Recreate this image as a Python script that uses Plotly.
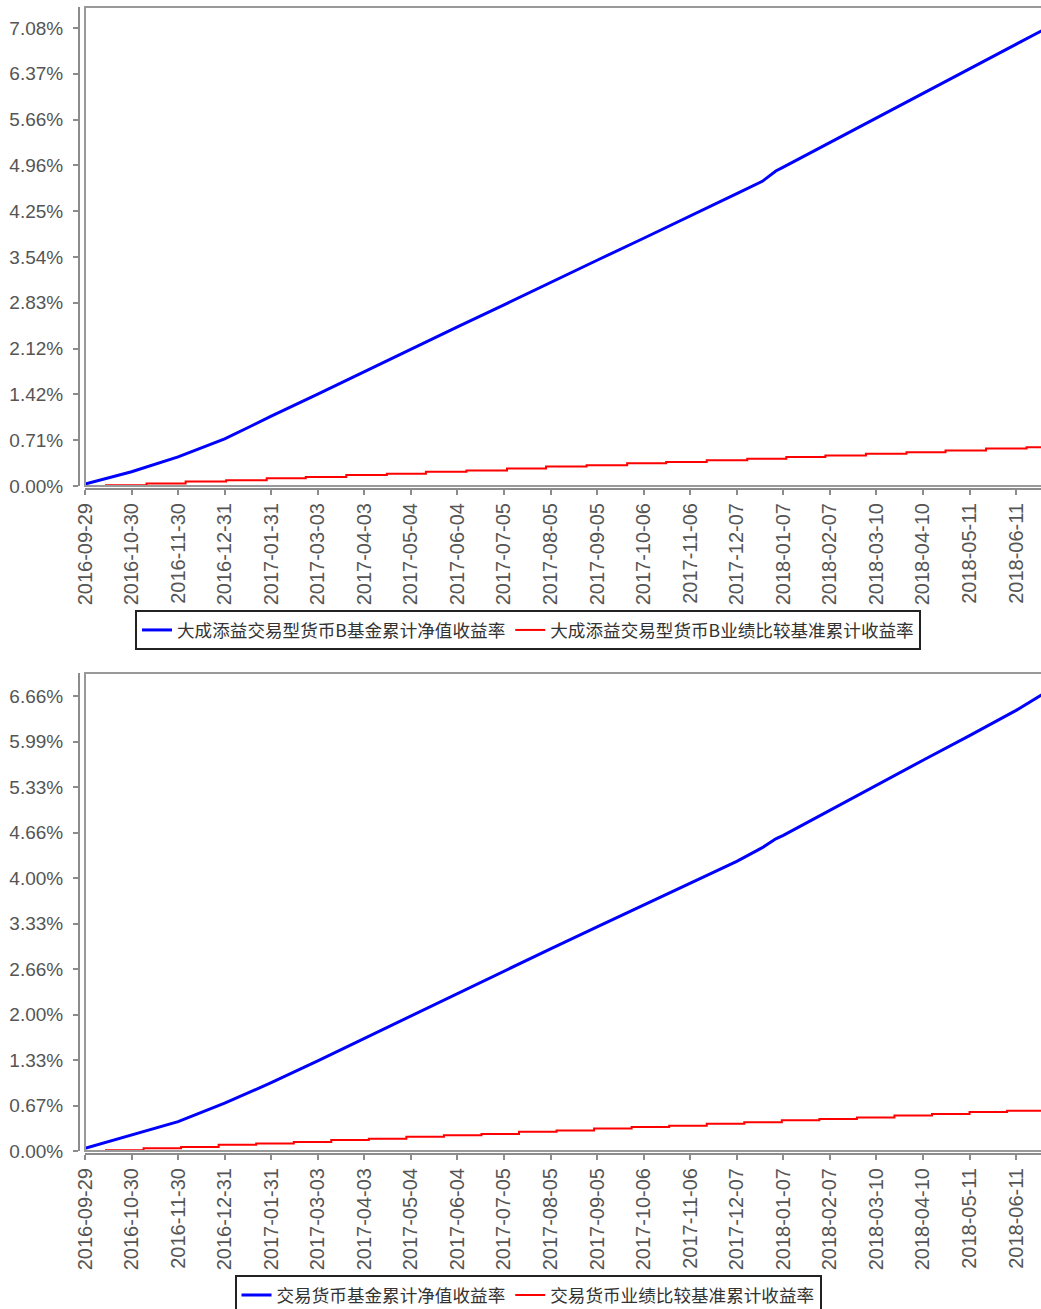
import plotly.graph_objects as go

# ---------------- data ----------------
x_tick_labels = ["2016-09-29", "2016-10-30", "2016-11-30", "2016-12-31", "2017-01-31",
                 "2017-03-03", "2017-04-03", "2017-05-04", "2017-06-04", "2017-07-05",
                 "2017-08-05", "2017-09-05", "2017-10-06", "2017-11-06", "2017-12-07",
                 "2018-01-07", "2018-02-07", "2018-03-10", "2018-04-10", "2018-05-11",
                 "2018-06-11"]

top_ytick_vals = [0, 0.708, 1.416, 2.124, 2.832, 3.54, 4.248, 4.956, 5.664, 6.372, 7.08]
top_ytick_labels = ["0.00%", "0.71%", "1.42%", "2.12%", "2.83%", "3.54%", "4.25%",
                    "4.96%", "5.66%", "6.37%", "7.08%"]
bot_ytick_vals = [0, 0.666, 1.332, 1.998, 2.664, 3.33, 3.996, 4.662, 5.328, 5.994, 6.66]
bot_ytick_labels = ["0.00%", "0.67%", "1.33%", "2.00%", "2.66%", "3.33%", "4.00%",
                    "4.66%", "5.33%", "5.99%", "6.66%"]

blue_dates = ["2016-09-29", "2016-10-30", "2016-11-30", "2016-12-31", "2017-01-17",
              "2017-01-31", "2017-03-03", "2017-04-03", "2017-05-04", "2017-06-04",
              "2017-07-05", "2017-08-05", "2017-09-05", "2017-10-06", "2017-11-06",
              "2017-12-07", "2017-12-24", "2018-01-02", "2018-01-07", "2018-02-07",
              "2018-03-10", "2018-04-10", "2018-05-11", "2018-06-11", "2018-06-29"]
top_blue = [0.03, 0.22, 0.45, 0.73, 0.92, 1.08, 1.42, 1.77, 2.11, 2.46, 2.80, 3.15, 3.49,
            3.83, 4.17, 4.52, 4.71, 4.87, 4.93, 5.31, 5.69, 6.06, 6.44, 6.82, 7.05]
bot_blue = [0.04, 0.23, 0.43, 0.70, 0.86, 1.00, 1.32, 1.65, 1.98, 2.30, 2.63, 2.96, 3.28,
            3.60, 3.92, 4.24, 4.44, 4.57, 4.62, 4.99, 5.35, 5.72, 6.08, 6.45, 6.69]

top_red_dates = ["2016-09-29", "2016-10-13", "2016-11-09", "2016-12-05", "2017-01-01",
                 "2017-01-28", "2017-02-23", "2017-03-22", "2017-04-18", "2017-05-14",
                 "2017-06-10", "2017-07-07", "2017-08-02", "2017-08-29", "2017-09-25",
                 "2017-10-21", "2017-11-17", "2017-12-14", "2018-01-09", "2018-02-04",
                 "2018-03-03", "2018-03-30", "2018-04-25", "2018-05-22", "2018-06-18",
                 "2018-06-29"]
top_red = [0.00, 0.01, 0.04, 0.07, 0.09, 0.12, 0.14, 0.17, 0.19, 0.22, 0.24, 0.27, 0.30,
           0.32, 0.35, 0.37, 0.40, 0.42, 0.45, 0.47, 0.50, 0.52, 0.55, 0.58, 0.60, 0.60]

bot_red_dates = ["2016-09-29", "2016-10-13", "2016-11-07", "2016-12-02", "2016-12-27",
                 "2017-01-21", "2017-02-15", "2017-03-12", "2017-04-06", "2017-05-01",
                 "2017-05-26", "2017-06-20", "2017-07-15", "2017-08-09", "2017-09-03",
                 "2017-09-28", "2017-10-23", "2017-11-17", "2017-12-12", "2018-01-06",
                 "2018-01-31", "2018-02-25", "2018-03-22", "2018-04-16", "2018-05-11",
                 "2018-06-05", "2018-06-29"]
bot_red = [0.00, 0.01, 0.04, 0.06, 0.09, 0.11, 0.13, 0.16, 0.18, 0.21, 0.23, 0.25, 0.28,
           0.30, 0.33, 0.35, 0.37, 0.40, 0.42, 0.45, 0.47, 0.49, 0.52, 0.54, 0.57, 0.59, 0.59]

top_names = ["大成添益交易型货币B基金累计净值收益率", "大成添益交易型货币B业绩比较基准累计收益率"]
bot_names = ["交易货币基金累计净值收益率", "交易货币业绩比较基准累计收益率"]

# ---------------- figure ----------------
W, H = 1041, 1309
BLUE, RED = "#0000FF", "#FF0000"
AXC = "#8c8c8c"

fig = go.Figure()
fig.add_trace(go.Scatter(x=blue_dates, y=top_blue, mode="lines", name=top_names[0],
                         line=dict(color=BLUE, width=3), xaxis="x", yaxis="y", legend="legend"))
fig.add_trace(go.Scatter(x=top_red_dates, y=top_red, mode="lines", name=top_names[1],
                         line=dict(color=RED, width=2, shape="hv"), xaxis="x", yaxis="y",
                         legend="legend"))
fig.add_trace(go.Scatter(x=blue_dates, y=bot_blue, mode="lines", name=bot_names[0],
                         line=dict(color=BLUE, width=3), xaxis="x2", yaxis="y2", legend="legend2"))
fig.add_trace(go.Scatter(x=bot_red_dates, y=bot_red, mode="lines", name=bot_names[1],
                         line=dict(color=RED, width=2, shape="hv"), xaxis="x2", yaxis="y2",
                         legend="legend2"))

def py(px):
    return 1 - px / H

x_dom = [85 / W, 1.0]
x_range = ["2016-09-29", "2018-06-27 14:00"]
tickfont_x = dict(family="Liberation Sans, Arial, sans-serif", size=20, color="#555555")
tickfont_y = dict(family="Liberation Sans, Arial, sans-serif", size=19, color="#555555")

def xaxis(pos):
    return dict(domain=x_dom, range=x_range, type="date", anchor="free", position=pos,
                tickvals=x_tick_labels, ticktext=x_tick_labels, tickangle=-90,
                ticks="outside", ticklen=5, tickwidth=1.5, tickcolor=AXC,
                showline=True, linecolor=AXC, linewidth=2, showgrid=False, zeroline=False,
                tickfont=tickfont_x, fixedrange=True, automargin=False)

def yaxis(dom, rng, vals, labels):
    return dict(domain=dom, range=rng, anchor="free", position=79 / W,
                tickvals=vals, ticktext=labels, ticks="outside", ticklen=5, tickwidth=1.5,
                tickcolor=AXC, showline=True, linecolor=AXC, linewidth=2, showgrid=False,
                zeroline=False, tickfont=tickfont_y, ticklabelstandoff=6, fixedrange=True,
                automargin=False)

legend_font = dict(family="Noto Sans CJK SC, sans-serif", size=17.6, color="#333333")

fig.update_layout(
    width=W, height=H, autosize=False,
    margin=dict(l=0, r=0, t=0, b=0, autoexpand=False),
    paper_bgcolor="white", plot_bgcolor="white",
    showlegend=True,
    xaxis=xaxis(py(489)),
    yaxis=yaxis([py(486), py(7)], [0, 7.405], top_ytick_vals, top_ytick_labels),
    xaxis2=xaxis(py(1154)),
    yaxis2=yaxis([py(1151), py(673)], [0, 6.997], bot_ytick_vals, bot_ytick_labels),
    legend=dict(orientation="h", x=528 / W, y=py(630), xanchor="center", yanchor="middle",
                bordercolor="#222222", borderwidth=2, bgcolor="white", font=legend_font,
                itemwidth=30, tracegroupgap=0),
    legend2=dict(orientation="h", x=528 / W, y=py(1295), xanchor="center", yanchor="middle",
                 bordercolor="#222222", borderwidth=2, bgcolor="white", font=legend_font,
                 itemwidth=30, tracegroupgap=0),
    shapes=[
        dict(type="rect", xref="x domain", yref="y domain", x0=0, x1=1.02, y0=0, y1=1,
             line=dict(color="#999999", width=2), layer="above"),
        dict(type="rect", xref="x2 domain", yref="y2 domain", x0=0, x1=1.02, y0=0, y1=1,
             line=dict(color="#999999", width=2), layer="above"),
    ],
)

fig.write_html("out.html", config={"displayModeBar": False},
               post_script="document.body.style.margin='0';document.body.style.overflow='hidden';")
